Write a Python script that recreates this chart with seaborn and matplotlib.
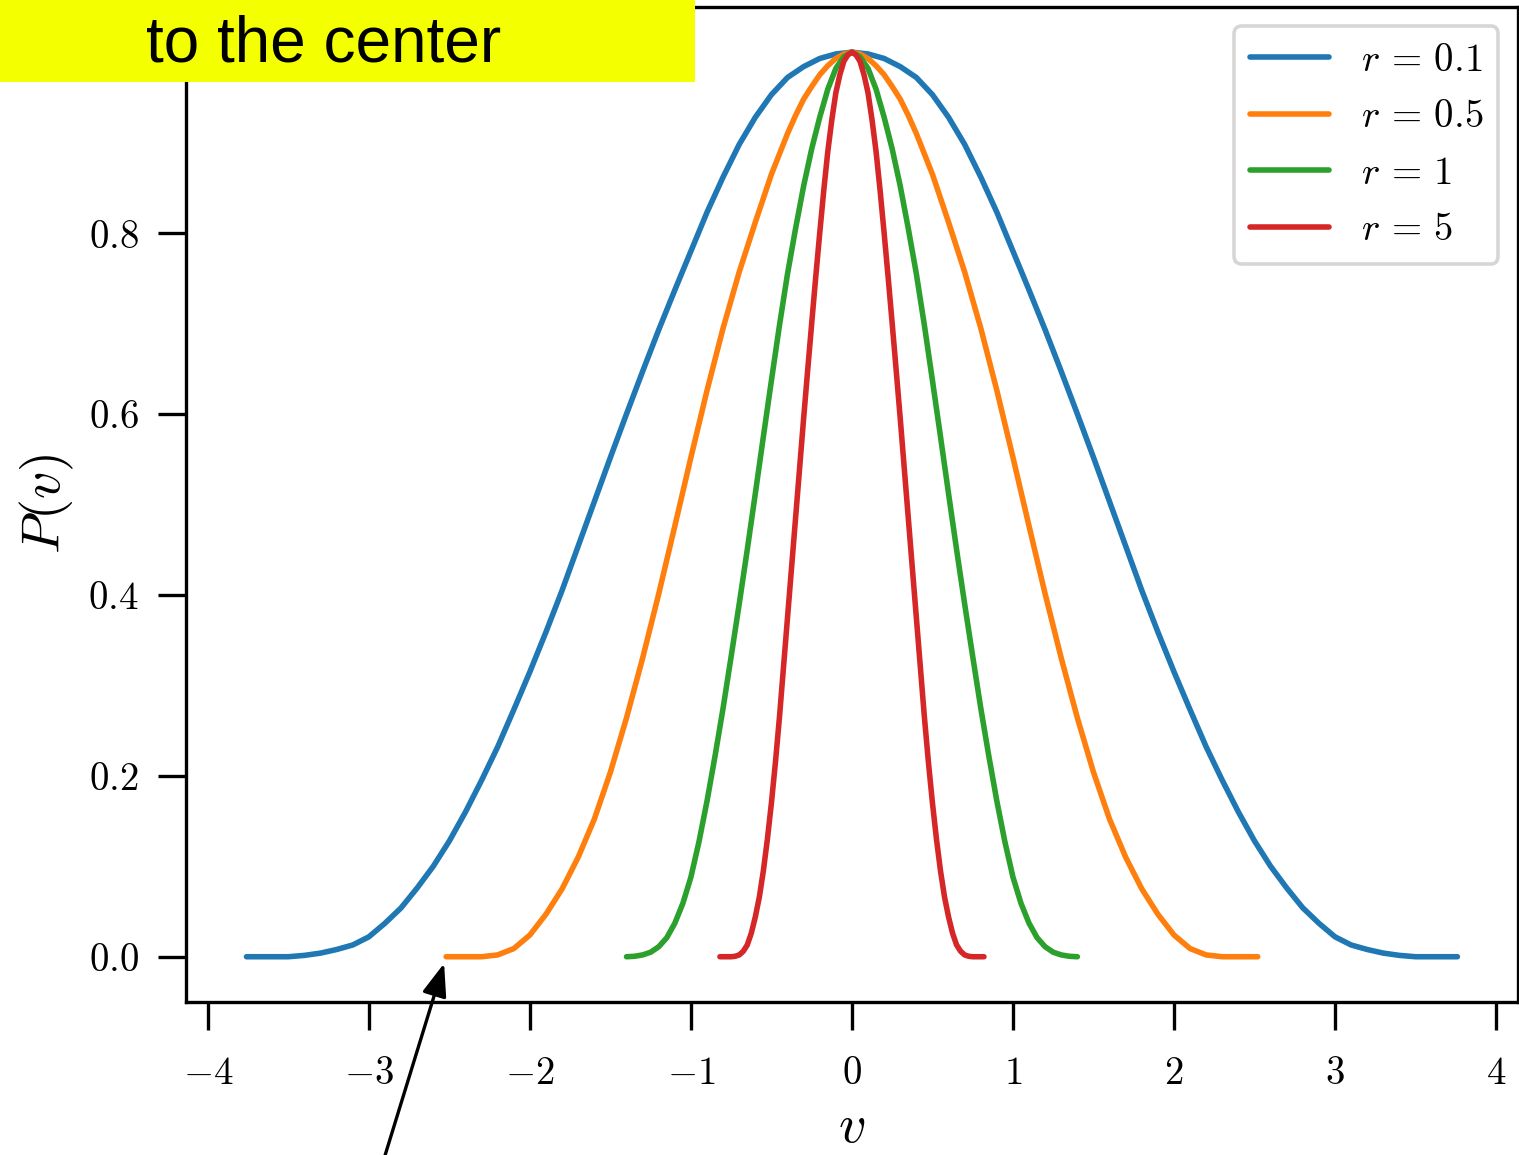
import matplotlib
matplotlib.use("Agg")
import matplotlib.pyplot as plt
import seaborn as sns
import pandas as pd
from matplotlib.patches import Rectangle

# Data (right half, curves are symmetric about v = 0)

r_labels = [r"$r\,=\,0.1$", r"$r\,=\,0.5$", r"$r\,=\,1$", r"$r\,=\,5$"]

v_r01 = [0.0, 0.1, 0.2, 0.3, 0.4, 0.5, 0.6, 0.7, 0.8, 0.9, 1.0, 1.1, 1.2,
         1.3, 1.4, 1.5, 1.6, 1.7, 1.8, 1.9, 2.0, 2.1, 2.2, 2.3, 2.4, 2.5,
         2.6, 2.7, 2.8, 2.9, 3.0, 3.1, 3.2, 3.3, 3.4, 3.5, 3.6, 3.76]
p_r01 = [1.0, 0.998, 0.993, 0.984, 0.972, 0.953, 0.928, 0.898, 0.862, 0.823,
         0.78, 0.737, 0.693, 0.647, 0.600, 0.552, 0.503, 0.454, 0.405, 0.359,
         0.315, 0.273, 0.232, 0.195, 0.16, 0.128, 0.10, 0.076, 0.054, 0.037,
         0.022, 0.013, 0.008, 0.004, 0.0015, 0.0, 0.0, 0.0]

v_r05 = [0.0, 0.05, 0.1, 0.15, 0.2, 0.25, 0.3, 0.35, 0.4, 0.5, 0.6, 0.7,
         0.8, 0.9, 1.0, 1.1, 1.2, 1.3, 1.4, 1.5, 1.6, 1.7, 1.8, 1.9, 2.0,
         2.1, 2.2, 2.3, 2.52]
p_r05 = [1.0, 0.998, 0.993, 0.985, 0.975, 0.962, 0.948, 0.93, 0.91, 0.865,
         0.812, 0.757, 0.695, 0.626, 0.552, 0.476, 0.401, 0.33, 0.264, 0.204,
         0.152, 0.11, 0.075, 0.047, 0.024, 0.009, 0.002, 0.0, 0.0]

v_r1 = [0.0, 0.05, 0.1, 0.15, 0.2, 0.25, 0.3, 0.35, 0.4, 0.45, 0.5, 0.55,
        0.6, 0.65, 0.7, 0.75, 0.8, 0.85, 0.9, 0.95, 1.0, 1.05, 1.1, 1.15,
        1.2, 1.25, 1.3, 1.35, 1.4]
p_r1 = [1.0, 0.995, 0.982, 0.959, 0.928, 0.893, 0.852, 0.805, 0.755, 0.698,
        0.637, 0.575, 0.512, 0.45, 0.39, 0.332, 0.275, 0.222, 0.172, 0.127,
        0.088, 0.059, 0.037, 0.021, 0.011, 0.005, 0.002, 0.0005, 0.0]

v_r5 = [0.0, 0.025, 0.05, 0.075, 0.1, 0.125, 0.15, 0.175, 0.2, 0.225, 0.25,
        0.275, 0.3, 0.325, 0.35, 0.375, 0.4, 0.425, 0.45, 0.475, 0.5, 0.525,
        0.55, 0.575, 0.6, 0.625, 0.65, 0.675, 0.7, 0.725, 0.75, 0.82]
p_r5 = [1.0, 0.997, 0.99, 0.975, 0.955, 0.925, 0.89, 0.847, 0.80, 0.751,
        0.70, 0.648, 0.595, 0.54, 0.485, 0.43, 0.375, 0.32, 0.265, 0.215,
        0.17, 0.13, 0.095, 0.066, 0.044, 0.026, 0.013, 0.006, 0.002, 0.0005,
        0.0, 0.0]

x_ticks = [-4, -3, -2, -1, 0, 1, 2, 3, 4]
y_ticks = [0.0, 0.2, 0.4, 0.6, 0.8, 1.0]

note_text = "to the center"
arrow_target = (-2.52, 0.0)


def mirror(v_half, p_half):
    v = [-x for x in v_half[::-1]] + list(v_half[1:])
    p = list(p_half[::-1]) + list(p_half[1:])
    return v, p


frames = []
for lab, vh, ph in zip(r_labels,
                       [v_r01, v_r05, v_r1, v_r5],
                       [p_r01, p_r05, p_r1, p_r5]):
    v, p = mirror(vh, ph)
    frames.append(pd.DataFrame({"v": v, "P": p, "r": lab}))
df = pd.concat(frames, ignore_index=True)

# Style

sns.set_theme(style="ticks")
plt.rcParams.update({
    "mathtext.fontset": "cm",
    "font.family": ["DejaVu Serif"],
    "axes.edgecolor": "black",
    "axes.linewidth": 2.4,
    "xtick.color": "black",
    "ytick.color": "black",
    "text.color": "black",
    "axes.labelcolor": "black",
})

fig = plt.figure(figsize=(15.19, 11.55), dpi=100)
ax = fig.add_axes([0.1224, 0.1325, 0.8769, 0.8615])

palette = sns.color_palette("tab10", 4)

sns.lineplot(
    data=df,
    x="v",
    y="P",
    hue="r",
    hue_order=r_labels,
    palette=palette,
    linewidth=4.0,
    sort=False,
    estimator=None,
    ax=ax
)

ax.margins(x=0.05, y=0.05)

ax.set_xticks(x_ticks)
ax.set_xticklabels([f"${t}$" for t in x_ticks])
ax.set_yticks(y_ticks)
ax.set_yticklabels([f"${t:.1f}$" for t in y_ticks])

ax.tick_params(axis="both", which="major", direction="out",
               length=20, width=2.4, labelsize=28)
ax.tick_params(axis="x", pad=18)
ax.tick_params(axis="y", pad=14)

ax.set_xlabel("$v$", fontsize=39, labelpad=7)
ax.set_ylabel("$P(v)$", fontsize=39, labelpad=9)

for side in ["top", "right", "left", "bottom"]:
    ax.spines[side].set_visible(True)
    ax.spines[side].set_linewidth(2.4)

handles, labels = ax.get_legend_handles_labels()
leg = ax.legend(
    handles,
    labels,
    loc="upper right",
    fontsize=28,
    frameon=True,
    fancybox=True,
    framealpha=0.8,
    edgecolor="0.8",
    handlelength=2.05,
    labelspacing=0.5
)
leg.get_frame().set_linewidth(2.6)
for line in leg.get_lines():
    line.set_linewidth(4.0)

# Arrow coming in from below the visible area
ax.annotate(
    "",
    xy=arrow_target,
    xycoords="data",
    xytext=(379, -20),
    textcoords="figure pixels",
    arrowprops=dict(
        arrowstyle="-|>,head_length=0.4,head_width=0.15",
        color="black",
        lw=2.4,
        mutation_scale=50,
        shrinkA=0,
        shrinkB=5
    ),
    annotation_clip=False
)

# Yellow note box in the top-left corner
W, H = 1519, 1155
fig.add_artist(Rectangle(
    (0, (H - 82) / H), 695 / W, 100 / H,
    transform=fig.transFigure,
    facecolor="#f4ff00",
    edgecolor="none",
    zorder=10
))
fig.text(
    324 / W, (H - 62) / H,
    note_text,
    ha="center",
    va="baseline",
    fontsize=46,
    family=["Liberation Sans", "DejaVu Sans"],
    color="black",
    zorder=11
)

fig.savefig("out.png", dpi=100)
